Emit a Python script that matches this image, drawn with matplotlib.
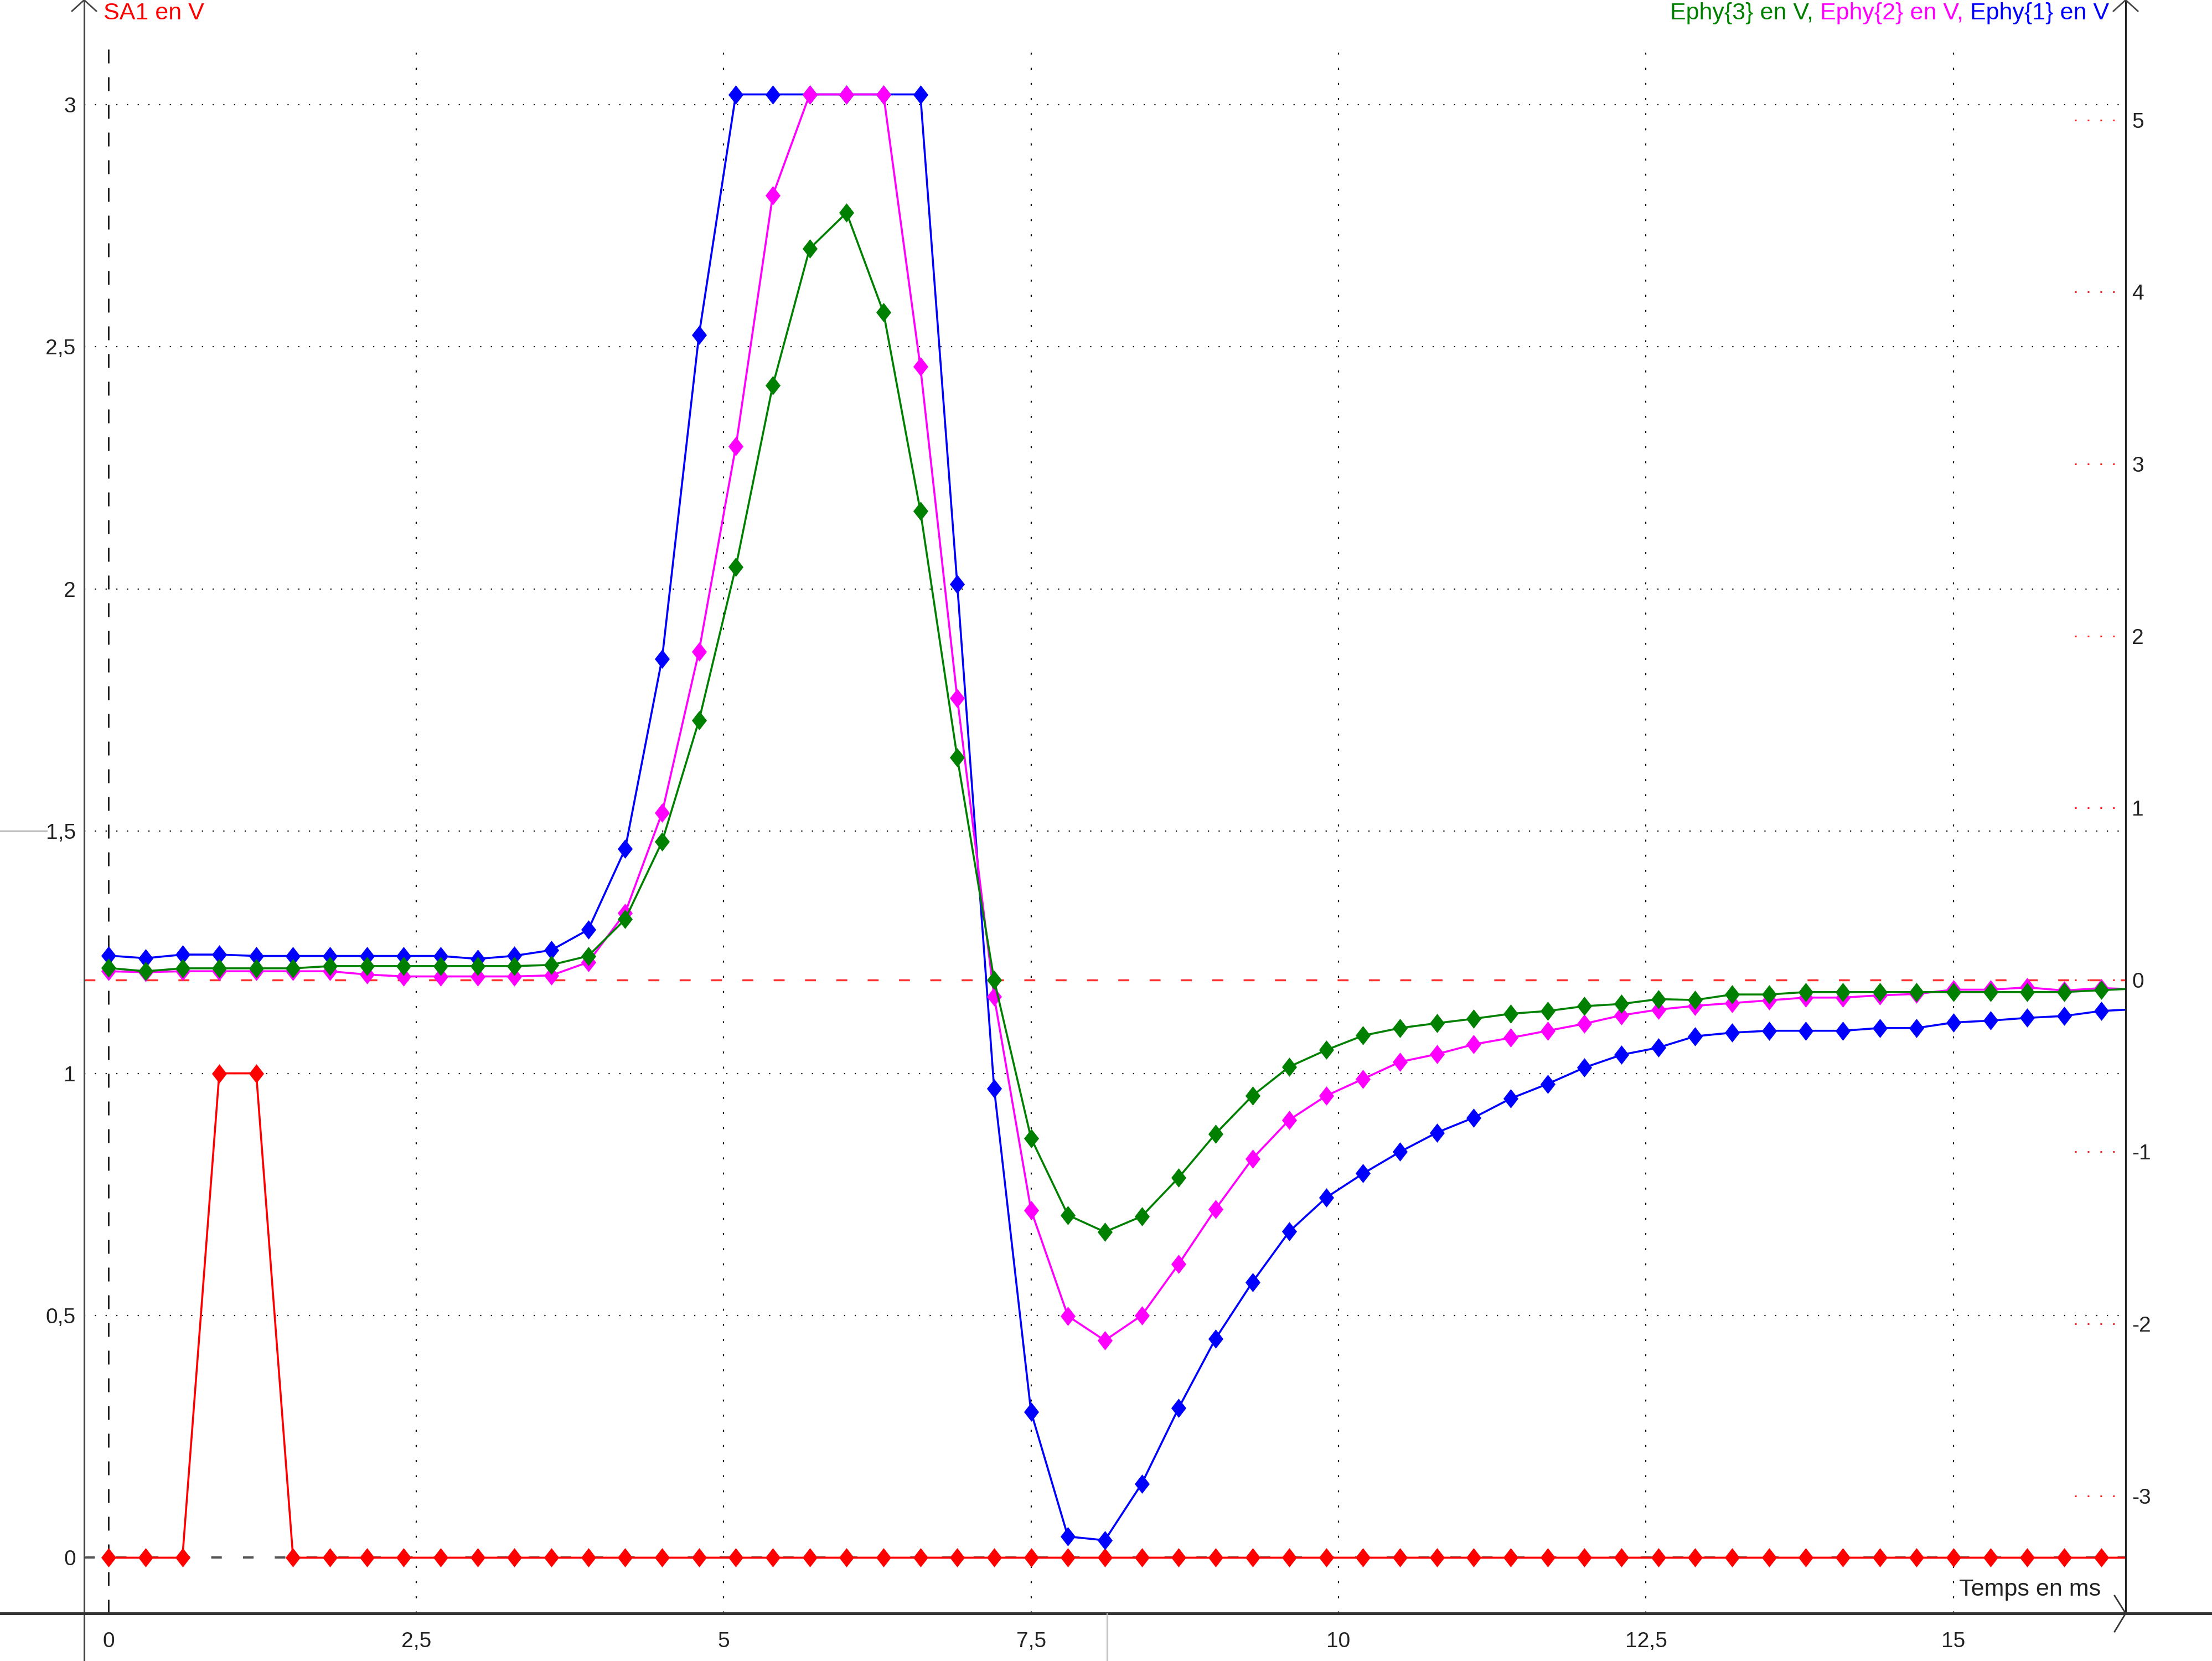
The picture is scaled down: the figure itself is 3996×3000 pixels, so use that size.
import matplotlib
matplotlib.use('Agg')
import matplotlib.pyplot as plt
from matplotlib.lines import Line2D

# =====================================================================================================================#
# DATA (read from the acquisition screen)
# =====================================================================================================================#
# time in ms, one sample every 0.3 ms (last one lies just past the right border)
temps = [0.0, 0.3, 0.6, 0.9, 1.2, 1.5, 1.8, 2.1, 2.4, 2.7,
         3.0, 3.3, 3.6, 3.9, 4.2, 4.5, 4.8, 5.1, 5.4, 5.7,
         6.0, 6.3, 6.6, 6.9, 7.2, 7.5, 7.8, 8.1, 8.4, 8.7,
         9.0, 9.3, 9.6, 9.9, 10.2, 10.5, 10.8, 11.1, 11.4, 11.7,
         12.0, 12.3, 12.6, 12.9, 13.2, 13.5, 13.8, 14.1, 14.4, 14.7,
         15.0, 15.3, 15.6, 15.9, 16.2, 16.5]

# stimulation output (left axis)
sa1 = [0, 0, 0, 1, 1, 0, 0, 0, 0, 0,
       0, 0, 0, 0, 0, 0, 0, 0, 0, 0,
       0, 0, 0, 0, 0, 0, 0, 0, 0, 0,
       0, 0, 0, 0, 0, 0, 0, 0, 0, 0,
       0, 0, 0, 0, 0, 0, 0, 0, 0, 0,
       0, 0, 0, 0, 0, 0]

# recorded potentials (right axis)
ephy1 = [0.141, 0.126, 0.147, 0.147, 0.139, 0.139, 0.139, 0.139, 0.139, 0.139,
         0.122, 0.140, 0.173, 0.292, 0.761, 1.868, 3.749, 5.149, 5.149, 5.149,
         5.149, 5.149, 5.149, 2.300, -0.632, -2.512, -3.237, -3.259, -2.930, -2.490,
         -2.087, -1.758, -1.463, -1.266, -1.126, -1.000, -0.888, -0.801, -0.690, -0.605,
         -0.510, -0.436, -0.394, -0.328, -0.307, -0.296, -0.296, -0.296, -0.280, -0.280,
         -0.248, -0.237, -0.221, -0.210, -0.181, -0.170]
ephy2 = [0.050, 0.045, 0.050, 0.050, 0.050, 0.050, 0.050, 0.031, 0.020, 0.020,
         0.020, 0.020, 0.026, 0.103, 0.390, 0.971, 1.910, 3.103, 4.562, 5.149,
         5.149, 5.149, 3.565, 1.639, -0.097, -1.339, -1.955, -2.097, -1.951, -1.653,
         -1.333, -1.040, -0.814, -0.674, -0.576, -0.477, -0.432, -0.375, -0.337, -0.296,
         -0.255, -0.206, -0.173, -0.151, -0.135, -0.119, -0.103, -0.103, -0.090, -0.082,
         -0.057, -0.057, -0.044, -0.062, -0.048, -0.055]
ephy3 = [0.069, 0.050, 0.067, 0.067, 0.067, 0.067, 0.080, 0.080, 0.080, 0.080,
         0.080, 0.080, 0.087, 0.139, 0.352, 0.803, 1.508, 2.402, 3.456, 4.252,
         4.461, 3.882, 2.727, 1.294, 0.000, -0.920, -1.368, -1.466, -1.375, -1.150,
         -0.895, -0.674, -0.505, -0.408, -0.324, -0.280, -0.252, -0.226, -0.197, -0.181,
         -0.153, -0.140, -0.112, -0.117, -0.085, -0.085, -0.071, -0.071, -0.071, -0.071,
         -0.071, -0.071, -0.071, -0.071, -0.060, -0.050]

x_ticks = [0, 2.5, 5, 7.5, 10, 12.5, 15]
x_ticklabels = ['0', '2,5', '5', '7,5', '10', '12,5', '15']
left_ticks = [0, 0.5, 1, 1.5, 2, 2.5, 3]
left_ticklabels = ['0', '0,5', '1', '1,5', '2', '2,5', '3']
right_ticks = [-3, -2, -1, 0, 1, 2, 3, 4, 5]
right_ticklabels = ['-3', '-2', '-1', '0', '1', '2', '3', '4', '5']

# =====================================================================================================================#
# STYLE
# =====================================================================================================================#
plt.rcParams['font.family'] = ['Liberation Sans', 'DejaVu Sans']
W, H = 3996, 3000
c_red, c_blue, c_mag, c_green = '#ff0000', '#0000ff', '#ff00ff', '#008000'
diamond = [(0, 1), (0.78, 0), (0, -1), (-0.78, 0), (0, 1)]
ms = 25
lw = 2.6
fs_tick = 28
fs_title = 31

# axes frame in pixels of the screenshot
ax_l, ax_r, ax_t, ax_b = 152, 3840, 0, 2914

fig = plt.figure(figsize=(W / 100, H / 100), dpi=100)
ax = fig.add_axes([ax_l / W, (H - ax_b) / H, (ax_r - ax_l) / W, (ax_b - ax_t) / H])
ax2 = ax.twinx()
ax2.set_zorder(ax.get_zorder() + 1)
ax2.patch.set_visible(False)

ax.set_xlim(-0.199, 16.40)
ax.set_ylim(-0.115, 3.216)
ax2.set_ylim(-3.684, 5.698)

for a in (ax, ax2):
    for s in a.spines.values():
        s.set_visible(False)

# grid: dotted, left axis levels and time ticks
for y in left_ticks[1:]:
    ax.axhline(y, color='#111111', lw=1.6, ls=(0, (1, 7.7)), zorder=1)
for x in x_ticks[1:]:
    ax.axvline(x, ymin=0, ymax=0.9736, color='#111111', lw=1.6, ls=(0, (1.6, 10.7)), zorder=1)
# time origin and left zero
ax.axvline(0, ymin=0, ymax=0.9736, color='black', lw=1.8, ls=(0, (10, 10)), zorder=1)
ax.axhline(0, color='#555555', lw=2.9, ls=(0, (4.75, 9.5)), zorder=1)
# right zero line
ax2.axhline(0, color='#ff3333', lw=2.5, ls=(0, (5.7, 10.6)), zorder=1)
# red dotted right ticks
for y in right_ticks:
    ax2.plot([0.975, 0.997], [y, y], transform=ax2.get_yaxis_transform(), color='#ff2020',
             lw=2.2, ls=(0, (1, 6.5)), clip_on=False)

# curves
ax.plot(temps, sa1, color=c_red, lw=lw, marker=diamond, ms=ms, mew=0, zorder=3)
ax2.plot(temps, ephy1, color=c_blue, lw=lw, marker=diamond, ms=ms, mew=0, zorder=3)
ax2.plot(temps, ephy2, color=c_mag, lw=lw, marker=diamond, ms=ms, mew=0, zorder=4)
ax2.plot(temps, ephy3, color=c_green, lw=lw, marker=diamond, ms=ms, mew=0, zorder=5)

# ticks
ax.set_xticks(x_ticks)
ax.set_xticklabels(x_ticklabels)
ax.set_yticks(left_ticks)
ax.set_yticklabels(left_ticklabels)
ax2.set_yticks(right_ticks)
ax2.set_yticklabels(right_ticklabels)
ax.tick_params(axis='x', length=0, labelsize=fs_tick, pad=24, colors='#222222')
ax.tick_params(axis='y', length=0, labelsize=fs_tick, pad=11, colors='#222222')
ax2.tick_params(axis='y', length=0, labelsize=fs_tick, pad=8, colors='#222222')

# =====================================================================================================================#
# OVERLAY (axis lines, arrows, titles) in screenshot pixels
# =====================================================================================================================#
ov = fig.add_axes([0, 0, 1, 1], zorder=20)
ov.set_xlim(0, W)
ov.set_ylim(H, 0)
ov.axis('off')

ov.add_line(Line2D([ax_l, ax_l], [0, H], color='#444444', lw=2.2))
ov.add_line(Line2D([ax_r, ax_r], [0, ax_b], color='#222222', lw=2.2))
ov.add_line(Line2D([0, W], [ax_b, ax_b], color='#333333', lw=3.6))
# arrow heads
ov.add_line(Line2D([ax_l - 22, ax_l, ax_l + 22], [20, 0, 20], color='#444444', lw=2))
ov.add_line(Line2D([ax_r - 22, ax_r, ax_r + 22], [20, 0, 20], color='#444444', lw=2))
ov.add_line(Line2D([ax_r - 20, ax_r, ax_r - 20], [ax_b - 32, ax_b, ax_b + 33], color='#333333', lw=2))
# cursor remnants
ov.add_line(Line2D([0, 85], [1501, 1501], color='#aaaaaa', lw=1.5))
ov.add_line(Line2D([2000, 2000], [ax_b, H], color='#bbbbbb', lw=1.5))

ov.text(187, 4, 'SA1 en V', color=c_red, fontsize=fs_title, ha='left', va='top')
ov.text(3795, 2882, 'Temps en ms', color='#222222', fontsize=fs_title, ha='right', va='baseline')

renderer = fig.canvas.get_renderer()
probe1 = ov.text(0, 0, 'x x', fontsize=fs_title)
probe2 = ov.text(0, 0, 'xx', fontsize=fs_title)
space_w = probe1.get_window_extent(renderer).width - probe2.get_window_extent(renderer).width
probe1.remove()
probe2.remove()

pieces = [('Ephy{1} en V', c_blue), ('Ephy{2} en V,', c_mag), ('Ephy{3} en V,', c_green)]
x_end = 3810
for txt, col in pieces:
    t = ov.text(x_end, 4, txt, color=col, fontsize=fs_title, ha='right', va='top')
    x_end -= t.get_window_extent(renderer).width + space_w

fig.savefig('out.png', dpi=100, facecolor='white')
